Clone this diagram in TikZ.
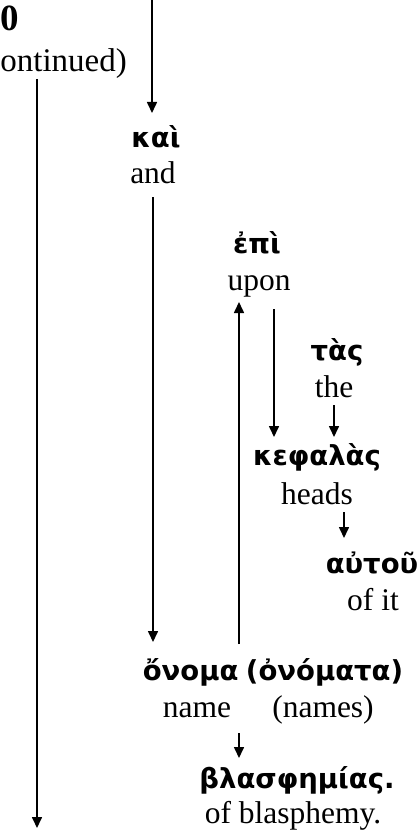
\documentclass[tikz,border=0pt]{standalone}
\usepackage{fontspec}
\setmainfont{Liberation Serif}
\newfontfamily\gk{DejaVu Sans}
\usetikzlibrary{arrows.meta}
\tikzset{
  en/.style={font=\fontsize{31.5}{36}\selectfont, inner sep=0pt, anchor=base},
  gr/.style={font=\gk\bfseries\fontsize{27.5}{31}\selectfont, inner sep=0pt, anchor=base},
  arr/.style={line width=1.6pt, -{Triangle[length=11pt,width=10pt]}}
}
\begin{document}
\begin{tikzpicture}[x=1pt,y=-1pt]
\useasboundingbox (0,0) rectangle (419,832);
% title fragment
\node[inner sep=0pt, anchor=base east, font=\bfseries\fontsize{37}{40}\selectfont] (zero) at (19,31) {0};
\node[inner sep=0pt, anchor=base east, font=\fontsize{33}{38}\selectfont] (cont) at (127,72) {ontinued)};
% words
\node[gr] (kai) at (156,147) {καὶ};
\node[en] (and) at (153,183) {and};
\node[gr] (epi) at (257,253) {ἐπὶ};
\node[en] (upon) at (259,290) {upon};
\node[gr] (tas) at (337,360) {τὰς};
\node[en] (the) at (334,397) {the};
\node[gr] (kef) at (317,465) {κεφαλὰς};
\node[en] (heads) at (317,504) {heads};
\node[gr] (autou) at (372,573) {αὐτοῦ};
\node[en] (ofit) at (373,610) {of it};
\node[gr] (onoma) at (273,680) {ὄνομα\hspace{-2pt} (ὀνόματα)};
\node[en] (name) at (197,717) {name};
\node[en] (names) at (323,717) {(names)};
\node[gr] (blas) at (297,788) {βλασφημίας.};
\node[en] (ofbl) at (293,823) {of blasphemy.};
% connector end points
\coordinate (t0) at (152,0);
\coordinate (t1) at (152,113);
\coordinate (c0) at (37,79);
\coordinate (c1) at (37,828);
\coordinate (a0) at (153,197);
\coordinate (a1) at (153,642);
\coordinate (o0) at (239,644);
\coordinate (o1) at (239,302);
\coordinate (u0) at (274,309);
\coordinate (u1) at (274,437);
\coordinate (h0) at (334,405);
\coordinate (h1) at (334,437);
\coordinate (k0) at (344,512);
\coordinate (k1) at (344,538);
\coordinate (n0) at (239,733);
\coordinate (n1) at (239,758);
% connectors
\draw[arr] (t0) -- (t1);
\draw[arr] (c0) -- (c1);
\draw[arr] (a0) -- (a1);
\draw[arr] (o0) -- (o1);
\draw[arr] (u0) -- (u1);
\draw[arr] (h0) -- (h1);
\draw[arr] (k0) -- (k1);
\draw[arr] (n0) -- (n1);
\end{tikzpicture}
\end{document}
